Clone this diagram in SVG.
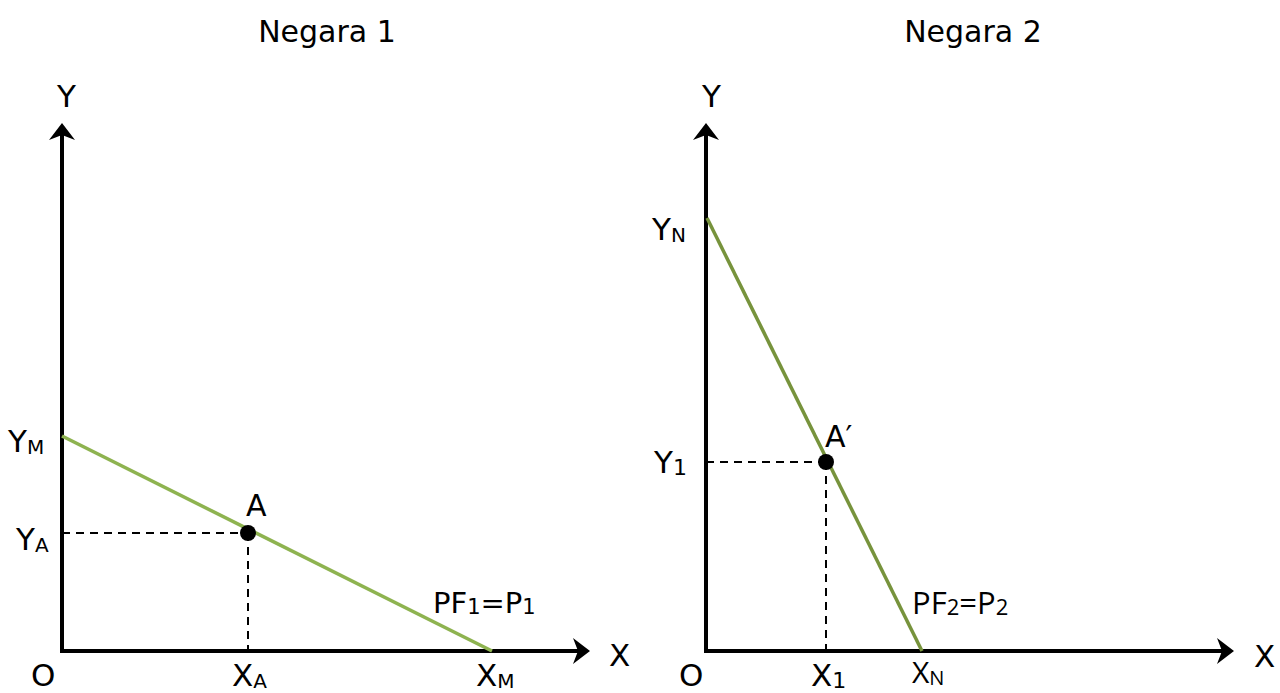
<svg xmlns="http://www.w3.org/2000/svg" width="1280" height="693" viewBox="0 0 1280 693">
<style>
.t{font-family:"DejaVu Sans","Verdana",sans-serif;fill:#000}
.o{font-family:"Open Sans","DejaVu Sans",sans-serif;fill:#000}
.ax{stroke:#000;stroke-width:4;fill:none}
.dash{stroke:#000;stroke-width:2;stroke-dasharray:8 6;fill:none}
</style>
<defs>
<marker id="arr" markerUnits="userSpaceOnUse" markerWidth="40" markerHeight="40" refX="0" refY="0" orient="auto" overflow="visible" viewBox="-20 -20 40 40">
<path d="M12,0 L-5,-13 L0,0 L-5,13 Z" fill="#000"/>
</marker>
</defs>
<rect width="1280" height="693" fill="#fff"/>

<g id="panel1">
<text class="t" x="327" y="42" font-size="30" text-anchor="middle">Negara 1</text>
<g id="axes1">
<line class="ax" x1="62" y1="651" x2="62" y2="135" marker-end="url(#arr)"/>
<line class="ax" x1="60" y1="651" x2="578" y2="651" marker-end="url(#arr)"/>
</g>
<line id="pf1" x1="62" y1="436" x2="492" y2="651" stroke="#8eb350" stroke-width="3.5"/>
<g id="guides1">
<line class="dash" x1="62" y1="533" x2="248" y2="533"/>
<line class="dash" x1="248" y1="533" x2="248" y2="651"/>
</g>
<circle id="pointA" cx="248" cy="533" r="8" fill="#000"/>
<text class="t" x="57" y="107" font-size="31">Y</text>
<text class="t" x="8" y="452" font-size="31">Y<tspan font-size="20" dy="2">M</tspan></text>
<text class="t" x="16" y="550" font-size="31">Y<tspan font-size="20" dy="2">A</tspan></text>
<text class="t" x="246" y="516" font-size="30">A</text>
<text class="t" x="31" y="686" font-size="31">O</text>
<text class="t" x="232" y="686" font-size="31">X<tspan font-size="20" dy="2">A</tspan></text>
<text class="t" x="476" y="686" font-size="31">X<tspan font-size="20" dy="2">M</tspan></text>
<text class="t" x="609" y="666" font-size="31">X</text>
<text class="t" x="433" y="613" font-size="29">PF<tspan font-size="21" dy="1">1</tspan><tspan dy="-1">=P</tspan><tspan font-size="21" dy="1">1</tspan></text>
</g>

<g id="panel2">
<text class="t" x="973" y="42" font-size="30" text-anchor="middle">Negara 2</text>
<g id="axes2">
<line class="ax" x1="706" y1="651" x2="706" y2="135" marker-end="url(#arr)"/>
<line class="ax" x1="704" y1="651" x2="1222" y2="651" marker-end="url(#arr)"/>
</g>
<line id="pf2" x1="707" y1="218" x2="922" y2="651" stroke="#77933c" stroke-width="3.5"/>
<g id="guides2">
<line class="dash" x1="706" y1="462" x2="826" y2="462"/>
<line class="dash" x1="826" y1="462" x2="826" y2="651"/>
</g>
<circle id="pointA2" cx="826" cy="462" r="8" fill="#000"/>
<text class="t" x="702" y="107" font-size="31">Y</text>
<text class="t" x="652" y="240" font-size="31">Y<tspan font-size="20" dy="2">N</tspan></text>
<text class="t" x="654" y="473" font-size="31">Y<tspan font-size="22" dy="2">1</tspan></text>
<text class="t" x="825" y="447" font-size="30">A′</text>
<text class="t" x="679" y="686" font-size="31">O</text>
<text class="t" x="811" y="686" font-size="31">X<tspan font-size="22" dy="2">1</tspan></text>
<text class="o" x="912" y="683" font-size="30">X<tspan font-size="20" dy="2">N</tspan></text>
<text class="t" x="1254" y="667" font-size="31">X</text>
<text class="o" x="912" y="614" font-size="31">PF<tspan font-size="22" dy="1">2</tspan><tspan dy="-1">=P</tspan><tspan font-size="22" dy="1">2</tspan></text>
</g>
</svg>
